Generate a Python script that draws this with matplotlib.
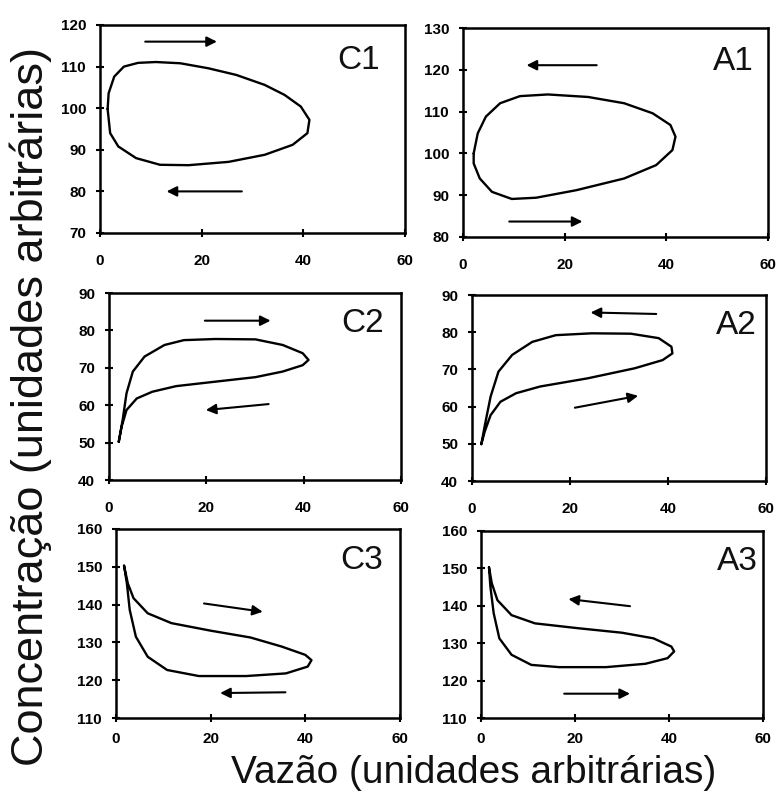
import matplotlib
matplotlib.use("Agg")
import matplotlib.pyplot as plt

plt.rcParams['font.family'] = ['Liberation Sans', 'DejaVu Sans']

# Hysteresis loops: concentration vs. flow for each event
c1_x = [1.5, 1.7, 2.8, 4.7, 7.5, 11.0, 15.8, 21.3, 26.8, 32.4, 36.3, 39.5, 41.2, 40.8, 37.9,
        32.4, 25.3, 17.4, 11.8, 7.1, 3.6, 2.0, 1.5]
c1_y = [99.8, 103.6, 107.6, 110.0, 110.9, 111.1, 110.8, 109.6, 108.0, 105.6, 103.2, 100.4,
        97.2, 94.0, 91.2, 88.8, 87.1, 86.3, 86.4, 88.0, 90.8, 94.0, 99.8]

a1_x = [2.1, 2.9, 4.5, 7.3, 11.2, 16.7, 24.6, 31.7, 37.3, 40.8, 41.8, 41.2, 38.0, 31.7, 22.3,
        14.4, 9.6, 5.7, 3.3, 2.1, 2.1]
a1_y = [100.0, 104.8, 108.8, 112.0, 113.7, 114.1, 113.5, 112.0, 109.6, 106.8, 104.0, 100.8,
        97.2, 94.0, 91.2, 89.4, 89.1, 90.8, 94.0, 97.6, 100.0]

c2_x = [2.0, 2.8, 3.6, 4.9, 7.3, 11.4, 15.4, 21.9, 30.1, 35.7, 39.8, 41.0, 39.8, 35.7, 30.1,
        21.9, 13.8, 8.9, 5.7, 3.6, 2.6, 2.0]
c2_y = [50.2, 56.0, 63.2, 69.0, 73.0, 76.1, 77.4, 77.7, 77.6, 76.1, 73.9, 72.1, 70.7, 69.0,
        67.5, 66.3, 65.1, 63.6, 61.8, 58.7, 54.3, 50.2]

a2_x = [1.9, 2.7, 3.8, 5.4, 8.2, 12.3, 17.1, 24.4, 32.4, 38.1, 40.7, 40.9, 38.9, 33.2, 23.6,
        13.9, 9.0, 5.8, 3.8, 2.6, 1.9]
a2_y = [49.9, 55.5, 62.7, 69.4, 73.9, 77.4, 79.2, 79.7, 79.6, 78.4, 76.1, 74.3, 72.5, 70.3,
        67.6, 65.4, 63.6, 61.3, 57.7, 53.3, 49.9]

c3_x = [1.7, 2.5, 3.7, 6.7, 11.7, 20.0, 28.4, 35.0, 40.0, 41.3, 40.5, 35.9, 27.5, 17.5, 10.8,
        6.7, 4.2, 2.9, 2.3, 1.7]
c3_y = [150.3, 145.6, 141.7, 137.7, 135.1, 133.1, 131.3, 128.9, 126.7, 125.3, 123.6, 121.8,
        121.1, 121.1, 122.7, 126.2, 131.5, 138.6, 145.6, 150.3]

a3_x = [1.7, 2.3, 3.5, 6.5, 11.5, 20.7, 30.0, 36.7, 40.5, 41.1, 39.7, 35.0, 26.6, 16.6, 10.7,
        6.5, 3.9, 2.7, 2.0, 1.7]
a3_y = [150.3, 146.0, 141.5, 137.5, 135.3, 134.0, 132.8, 131.3, 129.1, 127.8, 126.0, 124.5,
        123.6, 123.6, 124.2, 126.9, 131.3, 138.0, 145.1, 150.3]

# Direction arrows (tail -> head) per panel
c1_arrows = [((8.9, 116), (23, 116)), ((27.9, 80), (13.1, 80))]
a1_arrows = [((26.3, 121.1), (12.5, 121.1)), ((9.1, 83.7), (23.5, 83.7))]
c2_arrows = [((19.7, 82.6), (33.2, 82.6)), ((32.8, 60.3), (19.9, 58.7))]
a2_arrows = [((37.6, 84.9), (24.2, 85.3)), ((21.0, 59.7), (33.9, 62.9))]
c3_arrows = [((18.6, 140.3), (31.0, 138.1)), ((35.8, 116.8), (22.0, 116.6))]
a3_arrows = [((31.7, 139.9), (18.6, 141.8)), ((17.7, 116.5), (31.7, 116.5))]

panel_names = ["C1", "A1", "C2", "A2", "C3", "A3"]
loops_x = [c1_x, a1_x, c2_x, a2_x, c3_x, a3_x]
loops_y = [c1_y, a1_y, c2_y, a2_y, c3_y, a3_y]
arrows = [c1_arrows, a1_arrows, c2_arrows, a2_arrows, c3_arrows, a3_arrows]
y_limits = [(70, 120), (80, 130), (40, 90), (40, 90), (110, 160), (110, 160)]
x_ticks = [0, 20, 40, 60]

W, H = 777, 792
# axes boxes in pixels: left, right, top, bottom
boxes = [(100, 405, 25, 233), (463, 768, 28, 237),
         (109, 401, 293, 480), (472, 766, 295, 481),
         (116, 400, 529, 718), (481, 763, 531, 718)]
label_pos = [(0.918, 0.79), (0.952, 0.80), (0.94, 0.79),
             (0.968, 0.79), (0.94, 0.79), (0.982, 0.79)]
xlabel_pad = [12, 12, 12, 12, 7, 7]

fig = plt.figure(figsize=(W / 100, H / 100), dpi=100)

for i, name in enumerate(panel_names):
    l, r, t, b = boxes[i]
    ax = fig.add_axes([l / W, 1 - b / H, (r - l) / W, (b - t) / H])
    ax.plot(loops_x[i], loops_y[i], color='black', lw=1.7,
            solid_joinstyle='round', solid_capstyle='round')
    for (x0, y0), (x1, y1) in arrows[i]:
        ax.annotate("", xy=(x1, y1), xytext=(x0, y0),
                    arrowprops=dict(arrowstyle="-|>", color='black', lw=1.5,
                                    mutation_scale=15, shrinkA=0, shrinkB=0))
    ax.set_xlim(0, 60)
    lo, hi = y_limits[i]
    ax.set_ylim(lo, hi)
    ax.set_xticks(x_ticks)
    ax.set_yticks(list(range(lo, hi + 1, 10)))
    for s in ax.spines.values():
        s.set_linewidth(1.8)
    ax.tick_params(direction='inout', length=6, width=1.5, labelsize=11)
    ax.tick_params(axis='y', pad=7)
    ax.tick_params(axis='x', pad=xlabel_pad[i])
    for lab in ax.get_xticklabels() + ax.get_yticklabels():
        lab.set_fontweight('bold')
    lx, ly = label_pos[i]
    ax.text(lx, ly, name, transform=ax.transAxes, ha='right', va='baseline',
            fontsize=24, color='#111111')

fig.text(31 / W, 1 - 407 / H, "Concentração (unidades arbitrárias)", rotation=90,
         ha='center', va='center', fontsize=32.5, color='#111111')
fig.text(474 / W, 9 / H, "Vazão (unidades arbitrárias)",
         ha='center', va='baseline', fontsize=28, color='#111111')

fig.savefig("out.png", dpi=100)
